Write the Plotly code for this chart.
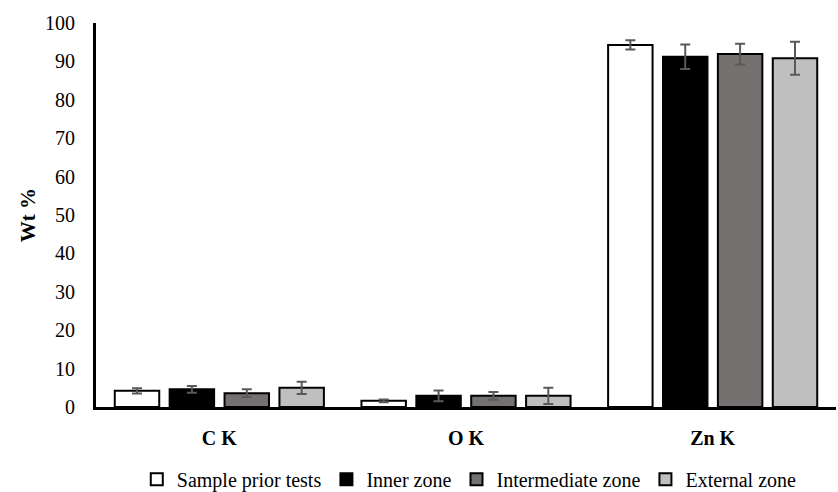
import plotly.graph_objects as go

categories = ["C K", "O K", "Zn K"]
series_names = ["Sample prior tests", "Inner zone", "Intermediate zone", "External zone"]
values = [
    [4.2, 1.6, 94.3],
    [4.6, 2.9, 91.2],
    [3.6, 2.9, 91.9],
    [5.0, 2.9, 90.8],
]
errors = [
    [0.7, 0.35, 1.2],
    [0.9, 1.4, 3.2],
    [1.0, 1.0, 2.7],
    [1.6, 2.1, 4.3],
]
colors = ["#FFFFFF", "#000000", "#767171", "#BFBFBF"]
yticks = [0, 10, 20, 30, 40, 50, 60, 70, 80, 90, 100]

font_family = "'Liberation Serif', 'Times New Roman', Times, serif"

fig = go.Figure()
for name, vals, errs, col in zip(series_names, values, errors, colors):
    fig.add_trace(go.Bar(
        name=name, x=categories, y=vals,
        marker=dict(color=col, line=dict(color="#000000", width=2)),
        error_y=dict(type="data", array=errs, visible=True, color="#595959",
                     thickness=2, width=5),
    ))

fig.update_layout(
    width=838, height=492,
    margin=dict(l=96, r=2, t=23, b=85),
    paper_bgcolor="white", plot_bgcolor="white",
    barmode="group", bargap=0.11, bargroupgap=0.19,
    font=dict(family=font_family, size=20, color="#000000"),
    showlegend=True,
    legend=dict(orientation="h", xref="container", x=0.56, xanchor="center",
                yref="container", y=0.026, yanchor="middle",
                font=dict(size=20, family=font_family), itemsizing="constant",
                tracegroupgap=0, itemwidth=30),
    yaxis=dict(range=[0, 100], tickvals=yticks, showgrid=False, zeroline=False,
               showline=True, linecolor="#000000", linewidth=3, ticks="",
               ticklabelstandoff=14,
               title=dict(text="<b>Wt %</b>", font=dict(size=21, family=font_family), standoff=4),
               tickfont=dict(size=20, family=font_family)),
    xaxis=dict(showline=True, linecolor="#000000", linewidth=3, ticks="",
               showgrid=False,
               tickfont=dict(size=20, family=font_family),
               tickvals=categories, ticktext=["<b>" + c + "</b>" for c in categories],
               ticklabelstandoff=11),
)

fig.write_html("out.html")
